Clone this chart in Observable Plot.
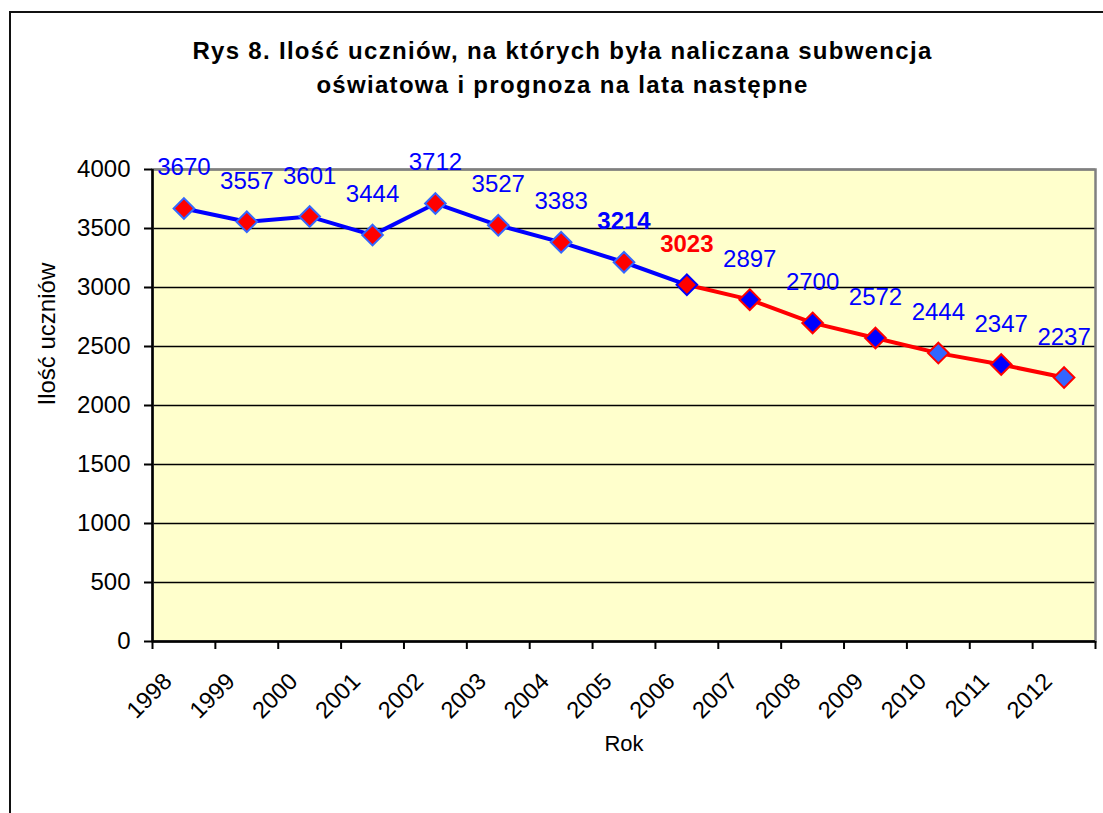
<!DOCTYPE html>
<html>
<head>
<meta charset="utf-8">
<script src="https://cdn.jsdelivr.net/npm/d3@7"></script>
<script src="https://cdn.jsdelivr.net/npm/@observablehq/plot@0.6"></script>
<style>
  html, body { margin: 0; padding: 0; background: #fff; overflow: hidden; }
  #wrap { position: relative; width: 1103px; height: 813px; overflow: hidden; font-family: "Liberation Sans", Arial, sans-serif; }
  #frame { position: absolute; left: 9px; top: 11px; width: 1200px; height: 900px; border: 2px solid #111; box-sizing: border-box; }
  #title { position: absolute; left: 0; top: 34px; width: 1125px; text-align: center; font-weight: bold; font-size: 24px; letter-spacing: 1.3px; line-height: 34px; color: #000; z-index: 2; }
  #chart { position: absolute; left: 0; top: 0; }
</style>
</head>
<body>
<div id="wrap">
  <div id="frame"></div>
  <div id="title">Rys 8. Ilość uczniów, na których była naliczana subwencja<br>oświatowa i prognoza na lata następne</div>
  <div id="chart"></div>
</div>
<script>
// ---- data ----
const years = [1998, 1999, 2000, 2001, 2002, 2003, 2004, 2005, 2006, 2007, 2008, 2009, 2010, 2011, 2012];
const students = [3670, 3557, 3601, 3444, 3712, 3527, 3383, 3214, 3023, 2897, 2700, 2572, 2444, 2347, 2237];
const lastActualYear = 2006;
const yTicks = [0, 500, 1000, 1500, 2000, 2500, 3000, 3500, 4000];
const yLabel = "Ilość uczniów";
const xLabel = "Rok";

// ---- styles (per point) ----
const RED = "#FF0000", BLUE = "#0000FF", LBLUE = "#3366FF";
const markerFill = [RED, RED, RED, RED, RED, RED, RED, RED, RED, BLUE, BLUE, BLUE, LBLUE, BLUE, LBLUE];
const markerStroke = [LBLUE, LBLUE, LBLUE, LBLUE, LBLUE, LBLUE, LBLUE, LBLUE, BLUE, RED, RED, RED, RED, RED, RED];
const boldLabelYears = [2005, 2006];

const data = years.map((year, i) => ({
  year, value: students[i],
  fill: markerFill[i], stroke: markerStroke[i],
  lc: year === lastActualYear ? RED : BLUE
}));
const actual = data.filter(d => d.year <= lastActualYear);
const forecast = data.filter(d => d.year >= lastActualYear);
const normalLabels = data.filter(d => !boldLabelYears.includes(d.year));
const boldLabels = data.filter(d => boldLabelYears.includes(d.year));

const xDomain = [years[0] - 0.5, years[years.length - 1] + 0.5];
const bandEdges = years.map(y => y - 0.5).concat([years[years.length - 1] + 0.5]);

const chart = Plot.plot({
  width: 1103,
  height: 813,
  marginTop: 169,
  marginBottom: 172,
  marginLeft: 152,
  marginRight: 8,
  style: { background: "transparent", fontFamily: "'Liberation Sans', Arial, sans-serif", fontSize: "24px", color: "#000" },
  x: { type: "linear", domain: xDomain },
  y: { domain: [0, 4000] },
  marks: [
    Plot.frame({ fill: "#FFFFCC", stroke: null }),
    Plot.ruleY(yTicks, { stroke: "#000", strokeWidth: 1.6 }),
    Plot.frame({ stroke: "#808080", strokeWidth: 2.5 }),
    Plot.ruleX([xDomain[0]], { stroke: "#000", strokeWidth: 2.5 }),
    Plot.ruleY([0], { stroke: "#000", strokeWidth: 2.5 }),
    Plot.axisY({ ticks: yTicks, tickSize: 8, tickPadding: 14, label: null, tickFormat: d => String(d), strokeWidth: 2, fontSize: 24 }),
    Plot.axisX({ ticks: bandEdges, tickSize: 8, tickFormat: () => "", label: null, strokeWidth: 2 }),
    Plot.axisX({ ticks: years, tickSize: 0, tickPadding: 36, tickRotate: -45, dx: -16, label: null, tickFormat: d => String(d), fontSize: 23.5 }),
    Plot.text([yLabel], { frameAnchor: "left", dx: -105, rotate: -90, fontSize: 24 }),
    Plot.text([xLabel], { frameAnchor: "bottom", dy: 109, fontSize: 22 }),
    Plot.line(actual, { x: "year", y: "value", stroke: BLUE, strokeWidth: 4 }),
    Plot.line(forecast, { x: "year", y: "value", stroke: RED, strokeWidth: 4 }),
    Plot.dot(data, { x: "year", y: "value", symbol: "diamond2", r: 9.3, fill: d => d.fill, stroke: d => d.stroke, strokeWidth: 2 }),
    Plot.text(normalLabels, { x: "year", y: "value", text: d => String(d.value), dy: -33, lineAnchor: "bottom", fill: d => d.lc, fontSize: 24 }),
    Plot.text(boldLabels, { x: "year", y: "value", text: d => String(d.value), dy: -33, lineAnchor: "bottom", fill: d => d.lc, fontWeight: "bold", fontSize: 24 })
  ]
});
document.getElementById("chart").appendChild(chart);
</script>
</body>
</html>
